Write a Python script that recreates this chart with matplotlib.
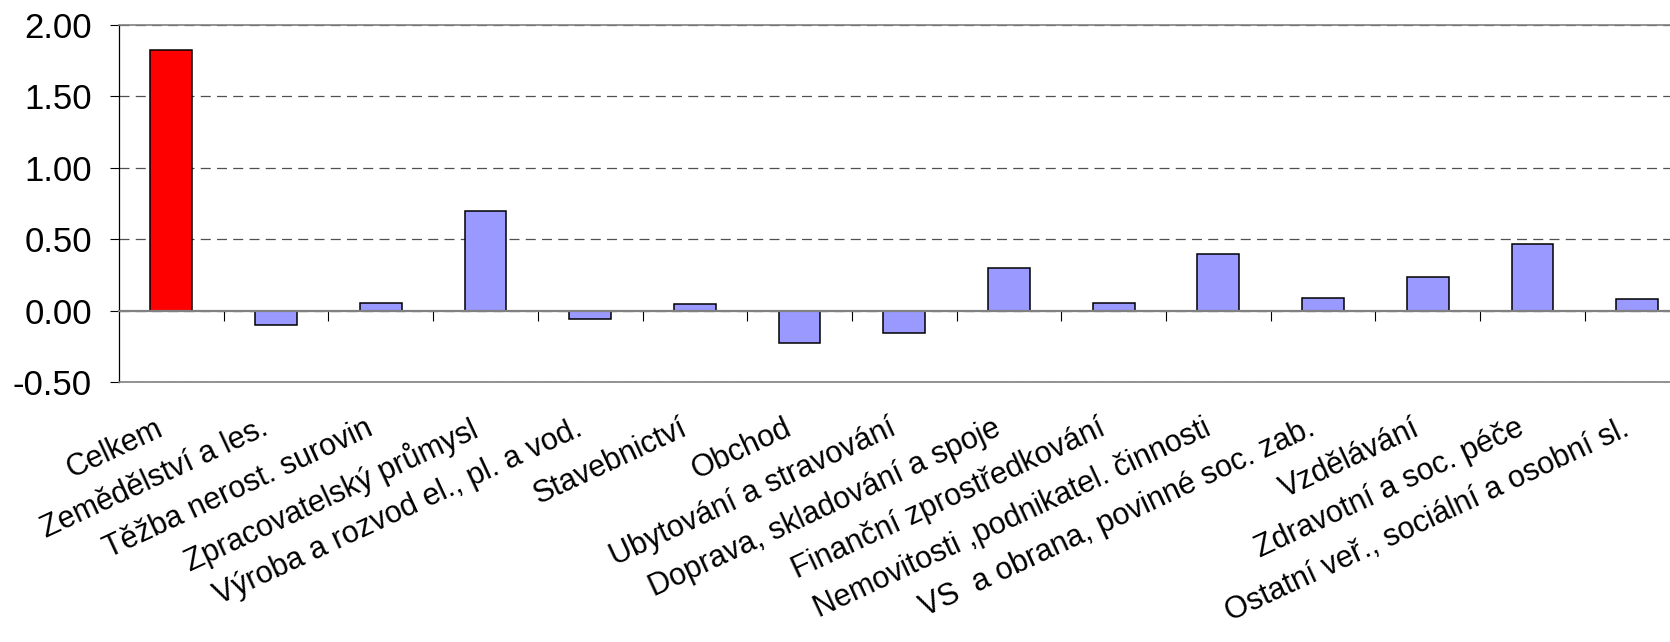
import matplotlib
matplotlib.use("Agg")
import matplotlib.pyplot as plt
from matplotlib.transforms import blended_transform_factory, ScaledTranslation

plt.rcParams['font.family'] = ['Liberation Sans', 'DejaVu Sans']

categories = [
    "Celkem",
    "Zemědělství a les.",
    "Těžba nerost. surovin",
    "Zpracovatelský průmysl",
    "Výroba a rozvod el., pl. a vod.",
    "Stavebnictví",
    "Obchod",
    "Ubytování a stravování",
    "Doprava, skladování a spoje",
    "Finanční zprostředkování",
    "Nemovitosti ,podnikatel. činnosti",
    "VS  a obrana, povinné soc. zab.",
    "Vzdělávání",
    "Zdravotní a soc. péče",
    "Ostatní veř., sociální a osobní sl.",
]
values = [1.82, -0.10, 0.056, 0.70, -0.056, 0.045, -0.225, -0.157,
          0.30, 0.056, 0.40, 0.089, 0.235, 0.47, 0.080]
yticks = [-0.5, 0.0, 0.5, 1.0, 1.5, 2.0]
ytick_labels = ["-0.50", "0.00", "0.50", "1.00", "1.50", "2.00"]
ymin, ymax = -0.5, 2.0

colors = ['#FF0000'] + ['#9999FF'] * (len(values) - 1)

W, H = 1670, 642
fig = plt.figure(figsize=(W / 100, H / 100), dpi=100)
ax = fig.add_axes([119 / W, 1 - 382.3 / H, (1689.5 - 119) / W, (382.3 - 24.7) / H])

x = list(range(len(categories)))
ax.bar(x, values, width=0.40, color=colors, edgecolor='black', linewidth=1.1, zorder=3)

ax.set_xlim(-0.5, len(categories) - 0.5)
ax.set_ylim(ymin, ymax)

ax.set_yticks(yticks)
ax.set_yticklabels(ytick_labels, fontsize=25)
ax.tick_params(axis='y', direction='out', length=6.5, width=0.8, color='black', pad=13)
ax.set_xticks([])

ax.set_axisbelow(True)
ax.yaxis.grid(True, color='#505050', linewidth=0.9, linestyle=(0, (8, 5)))

ax.spines['left'].set_color('black')
ax.spines['left'].set_linewidth(0.9)
ax.spines['top'].set_color('#808080')
ax.spines['bottom'].set_color('#808080')
ax.spines['top'].set_linewidth(1.2)
ax.spines['bottom'].set_linewidth(1.2)
ax.spines['right'].set_visible(False)

# zero line with category separator ticks
zero_loc = (0 - ymin) / (ymax - ymin)
sec = ax.secondary_xaxis(zero_loc)
sec.set_xticks([i + 0.5 for i in x[:-1]])
sec.set_xticklabels([])
sec.tick_params(axis='x', direction='out', length=7, width=0.8, color='black')
sec.spines['bottom'].set_color('#808080')
sec.spines['bottom'].set_linewidth(1.6)
sec.set_zorder(4)

# category labels
trans = blended_transform_factory(ax.transData, ax.transAxes) + \
    ScaledTranslation(-16 / 100, -31 / 100, fig.dpi_scale_trans)
for i, lab in zip(x, categories):
    ax.text(i, 0, lab, transform=trans, ha='right', va='top', rotation=25,
            rotation_mode='anchor', fontsize=22, clip_on=False)

fig.savefig('out.png', dpi=100)
